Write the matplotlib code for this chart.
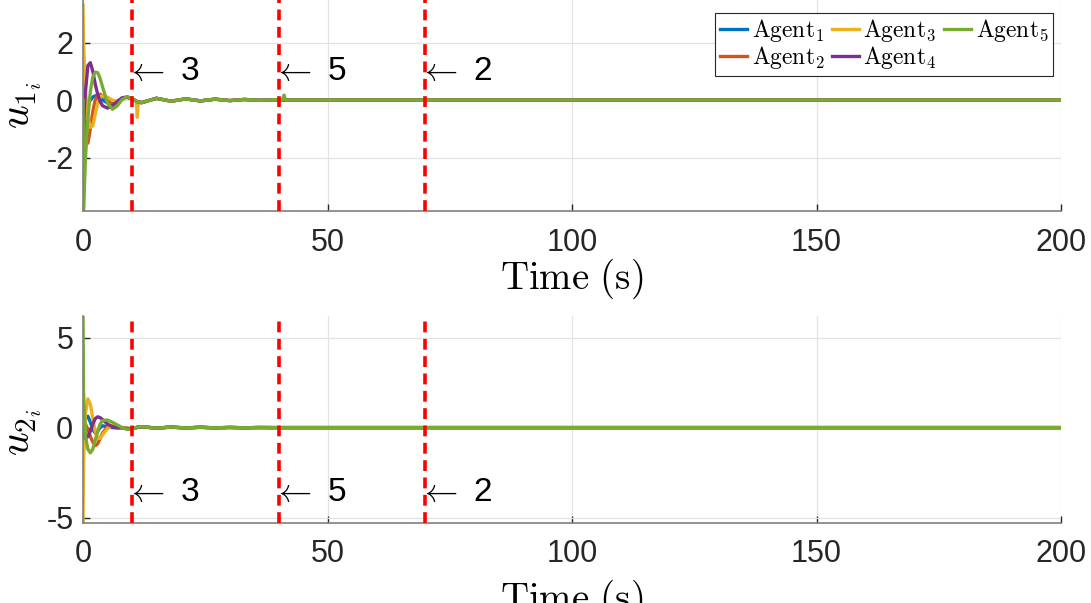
import matplotlib
matplotlib.use("Agg")
import matplotlib.pyplot as plt

plt.rcParams['font.family'] = ['Liberation Sans', 'DejaVu Sans']
plt.rcParams['mathtext.fontset'] = 'cm'

# time samples (s)
t = [0, 0.1, 0.5, 1, 1.5, 2, 2.5, 3, 3.5, 4, 5, 6, 7, 8, 9, 10, 10.9, 11.1, 11.3, 12,
     15, 18, 21, 24, 27, 30, 33, 36, 39, 40.8, 41.1, 41.4, 44, 50, 200]

# u1 for each agent
u1_a1 = [-1.7, -0.6, -0.2, -0.1, 0.0, 0.1, 0.15, 0.1, 0.05, 0.0, -0.1, -0.15, -0.05, 0.05,
         0.1, 0.05, -0.04, -0.06, -0.07, -0.09, 0.06, -0.04, 0.04, -0.03, 0.03, -0.02, 0.02,
         -0.01, 0.01, 0, 0, 0, 0, 0, 0]
u1_a2 = [0.0, -0.5, -1.2, -1.5, -1.0, -0.4, 0.0, 0.15, 0.2, 0.15, 0.0, -0.15, -0.1, 0.05,
         0.1, 0.05, -0.04, -0.06, -0.07, -0.09, 0.06, -0.04, 0.04, -0.03, 0.03, -0.02, 0.02,
         -0.01, 0.01, 0, 0, 0, 0, 0, 0]
u1_a3 = [3.3, 2.0, 0.3, -0.6, -0.95, -0.9, -0.5, -0.1, 0.1, 0.15, 0.1, 0.0, -0.05, 0.05,
         0.1, 0.05, -0.04, -0.6, -0.07, -0.09, 0.06, -0.04, 0.04, -0.03, 0.03, -0.02, 0.02,
         -0.01, 0.01, 0, 0, 0, 0, 0, 0]
u1_a4 = [0.0, -0.8, 0.3, 1.2, 1.3, 1.0, 0.55, 0.2, -0.05, -0.2, -0.28, -0.2, -0.05, 0.08,
         0.1, 0.05, -0.04, -0.06, -0.07, -0.09, 0.06, -0.04, 0.04, -0.03, 0.03, -0.02, 0.02,
         -0.01, 0.01, 0, 0, 0, 0, 0, 0]
u1_a5 = [0.0, -3.86, -2.0, -0.6, 0.3, 0.8, 0.97, 0.95, 0.75, 0.45, -0.1, -0.32, -0.2, 0.02,
         0.12, 0.05, -0.04, -0.06, -0.07, -0.09, 0.06, -0.04, 0.04, -0.03, 0.03, -0.02, 0.02,
         -0.01, 0.01, 0, 0.17, 0, 0, 0, 0]

# u2 for each agent
u2_a1 = [2.5, 1.0, 0.5, 0.63, 0.3, -0.1, -0.3, -0.2, 0.0, 0.1, 0.05, 0.0, -0.02, 0.0,
         -0.05, -0.06, 0.0, 0.02, 0.03, 0.05, -0.03, 0.03, -0.02, 0.02, -0.015, 0.01, -0.01,
         0.005, 0, 0, 0, 0, 0, 0, 0]
u2_a2 = [-1.8, -0.5, 0.2, -0.1, -0.5, -0.8, -1.0, -0.9, -0.6, -0.3, 0.05, 0.1, 0.05, 0.0,
         -0.05, -0.06, 0.0, 0.02, 0.03, 0.05, -0.03, 0.03, -0.02, 0.02, -0.015, 0.01, -0.01,
         0.005, 0, 0, 0, 0, 0, 0, 0]
u2_a3 = [-5.2, -2.0, 0.8, 1.6, 1.3, 0.5, -0.2, -0.6, -0.6, -0.4, -0.05, 0.1, 0.05, 0.0,
         -0.05, -0.06, 0.0, 0.02, 0.03, 0.05, -0.03, 0.03, -0.02, 0.02, -0.015, 0.01, -0.01,
         0.005, 0, 0, 0, 0, 0, 0, 0]
u2_a4 = [0.0, -0.3, -0.6, -0.5, -0.2, 0.2, 0.5, 0.6, 0.55, 0.45, 0.2, 0.05, 0.0, -0.02,
         -0.05, -0.06, 0.0, 0.02, 0.03, 0.05, -0.03, 0.03, -0.02, 0.02, -0.015, 0.01, -0.01,
         0.005, 0, 0, 0, 0, 0, 0, 0]
u2_a5 = [6.2, 2.0, -0.5, -1.2, -1.4, -1.2, -0.7, -0.2, 0.2, 0.4, 0.42, 0.3, 0.15, 0.0,
         -0.1, -0.08, 0.0, 0.02, 0.03, 0.05, -0.03, 0.03, -0.02, 0.02, -0.015, 0.01, -0.01,
         0.005, 0, 0, 0, 0, 0, 0, 0]

labels = [r'$\mathrm{Agent}_1$', r'$\mathrm{Agent}_2$', r'$\mathrm{Agent}_3$',
          r'$\mathrm{Agent}_4$', r'$\mathrm{Agent}_5$']
colors = ['#0072BD', '#D95319', '#EDB120', '#7E2F8E', '#77AC30']

event_t = [10, 40, 70]
event_lbl = ['3', '5', '2']


def style(ax, ylim, yticks):
    ax.set_xlim(0, 200)
    ax.set_ylim(*ylim)
    ax.set_xticks([0, 50, 100, 150, 200])
    ax.set_yticks(yticks)
    ax.grid(color='#e3e3e3', linewidth=0.9)
    ax.set_axisbelow(True)
    for s in ['top', 'right']:
        ax.spines[s].set_visible(False)
    for s in ['left', 'bottom']:
        ax.spines[s].set_color('#808080')
        ax.spines[s].set_linewidth(1.2)
    ax.tick_params(direction='in', length=5, width=1, color='#262626',
                   labelsize=22, labelcolor='#262626')
    ax.tick_params(axis='x', pad=12)
    ax.tick_params(axis='y', pad=7)


fig = plt.figure(figsize=(10.91, 6.03), dpi=100)
ax1 = fig.add_axes([0.0761, 0.6501, 0.8964, 0.3499])
ax2 = fig.add_axes([0.0761, 0.1332, 0.8964, 0.3428])

for y, c, l in zip([u1_a1, u1_a2, u1_a3, u1_a4, u1_a5], colors, labels):
    ax1.plot(t, y, color=c, linewidth=2.4, label=l)
for y, c in zip([u2_a1, u2_a2, u2_a3, u2_a4, u2_a5], colors):
    ax2.plot(t, y, color=c, linewidth=2.4)

for ax, ytxt in [(ax1, 1.0), (ax2, -3.6)]:
    for x, lb in zip(event_t, event_lbl):
        ax.axvline(x, color='red', linewidth=2.6, linestyle=(0, (3.0, 1.8)), zorder=5)
        ax.text(x - 1.2, ytxt, r'$\leftarrow$ ' + lb, fontsize=24, ha='left', va='center',
                zorder=6)

style(ax1, (-3.86, 3.48), [-2, 0, 2])
style(ax2, (-5.28, 6.2), [-5, 0, 5])
ax1.set_yticklabels(['-2', '0', '2'])
ax2.set_yticklabels(['-5', '0', '5'])

ax1.set_xlabel(r'$\mathrm{Time\ (s)}$', fontsize=28)
ax1.xaxis.set_label_coords(0.5, -0.215)
ax2.set_xlabel(r'$\mathrm{Time\ (s)}$', fontsize=28)
ax2.xaxis.set_label_coords(0.5, -0.265)
ax1.set_ylabel(r'$u_{1_i}$', fontsize=30)
ax1.yaxis.set_label_coords(-0.040, 0.5)
ax2.set_ylabel(r'$u_{2_i}$', fontsize=30)
ax2.yaxis.set_label_coords(-0.040, 0.44)

leg = ax1.legend(loc='upper right', bbox_to_anchor=(0.992, 0.94), ncol=3, fontsize=17,
                 handlelength=1.15, handletextpad=0.2, columnspacing=0.3,
                 labelspacing=0.0, borderpad=0.2, borderaxespad=0,
                 fancybox=False, framealpha=1, edgecolor='#262626')
leg.get_frame().set_linewidth(0.8)

fig.savefig('out.png', dpi=100)
